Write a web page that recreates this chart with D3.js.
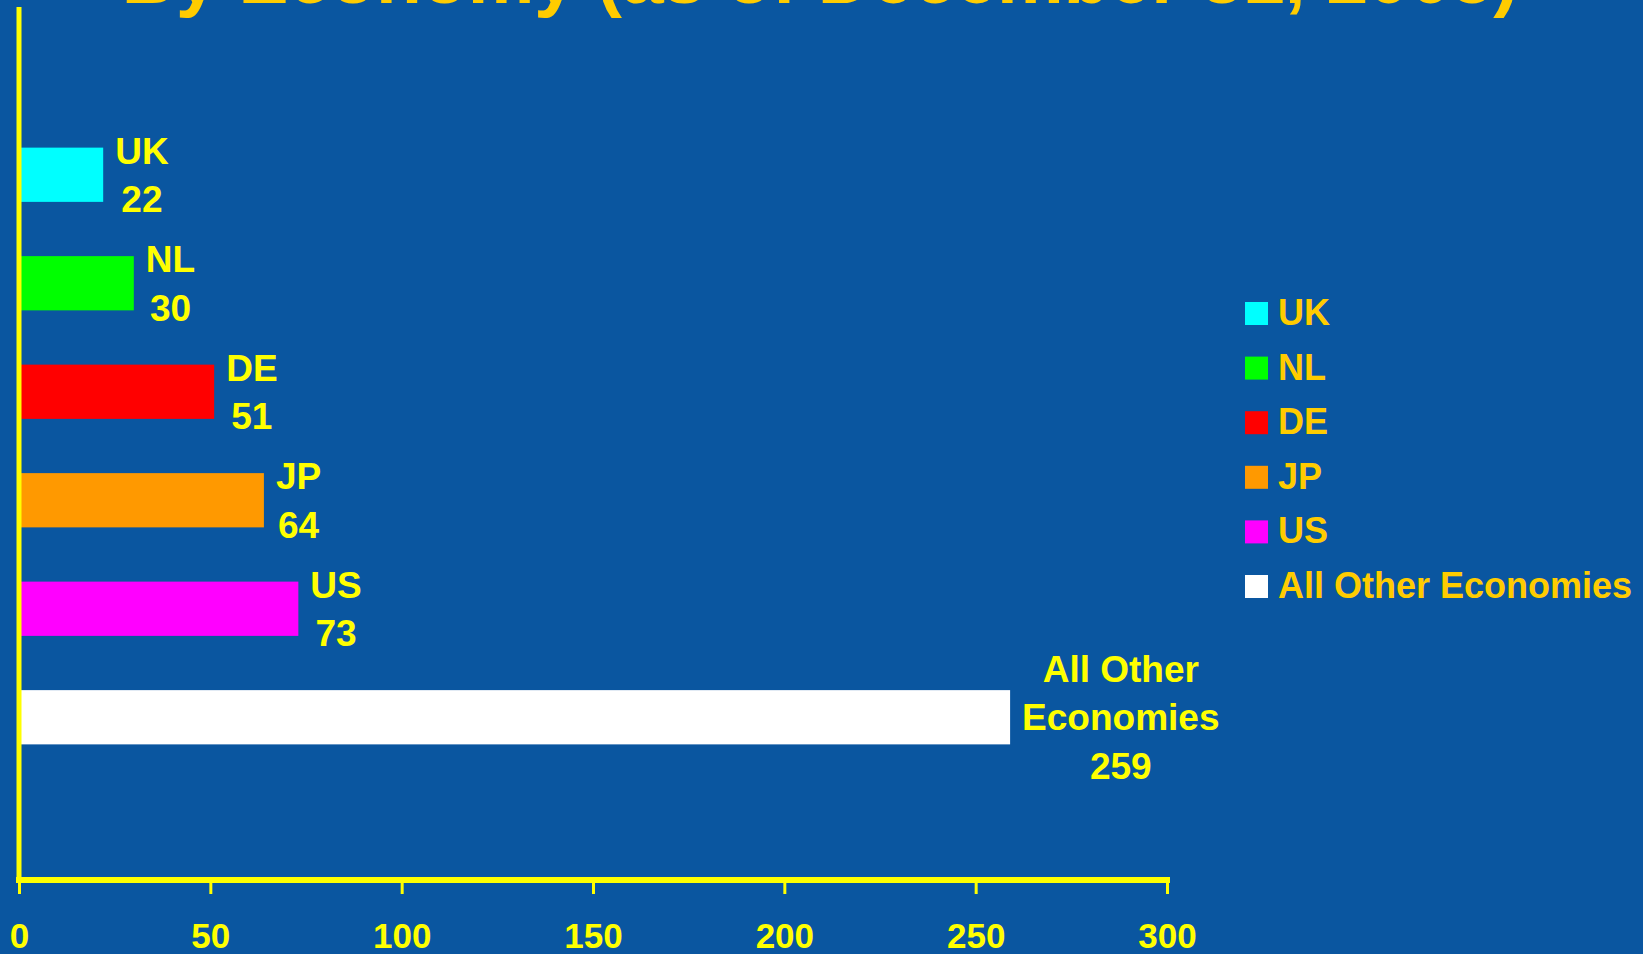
<!DOCTYPE html>
<html>
<head>
<meta charset="utf-8">
<script src="https://cdn.jsdelivr.net/npm/d3@7"></script>
<style>
  html, body { margin: 0; padding: 0; background: #0a56a0; overflow: hidden; }
  svg { display: block; font-family: Arial, "Liberation Sans", sans-serif; font-weight: bold; }
</style>
</head>
<body>
<svg width="1643" height="954"></svg>
<script>
// chart data
const economies = ['UK', 'NL', 'DE', 'JP', 'US', 'All Other Economies'];
const labelLines = [['UK'], ['NL'], ['DE'], ['JP'], ['US'], ['All Other', 'Economies']];
const counts = [22, 30, 51, 64, 73, 259];
const barColors = ['#00ffff', '#00ff00', '#ff0000', '#ff9900', '#ff00ff', '#ffffff'];
const xTicks = [0, 50, 100, 150, 200, 250, 300];
const title = 'By Economy (as of December 31, 2005)';

const svg = d3.select('svg');
const width = +svg.attr('width');
const height = +svg.attr('height');
const margin = {top: 7, right: 476, bottom: 74, left: 19};
const innerWidth = width - margin.left - margin.right;
const innerHeight = height - margin.top - margin.bottom;

const data = economies.map((name, i) => ({
  name: name,
  lines: labelLines[i],
  value: counts[i],
  color: barColors[i]
}));

// title (mostly above the visible area, as in the slide)
svg.append('text')
  .attr('x', 820)
  .attr('y', 3)
  .attr('text-anchor', 'middle')
  .attr('fill', '#ffcc00')
  .style('font-size', '75px')
  .text(title);

const xScale = d3.scaleLinear()
  .domain([0, 300])
  .range([0, 1148]);
const yScale = d3.scaleBand()
  .domain(economies)
  .range([5, innerHeight])
  .paddingInner(0.5)
  .paddingOuter(1.25);

const g = svg.append('g')
  .attr('transform', `translate(${margin.left}, ${margin.top})`);

// bars
g.selectAll('rect.bar').data(data)
  .enter().append('rect')
    .attr('class', 'bar')
    .attr('x', 0)
    .attr('y', d => yScale(d.name))
    .attr('width', d => xScale(d.value))
    .attr('height', yScale.bandwidth())
    .attr('fill', d => d.color);

// y axis line
g.append('line')
  .attr('x1', 0).attr('x2', 0)
  .attr('y1', 0).attr('y2', innerHeight + 3)
  .attr('stroke', '#ffff00')
  .attr('stroke-width', 5);

// x axis
const xAxis = g.append('g')
  .attr('transform', `translate(0, ${innerHeight})`)
  .call(d3.axisBottom(xScale).tickValues(xTicks).tickSize(14).tickPadding(40));
xAxis.select('.domain')
  .attr('d', `M-3,0H${xScale(300) + 3}`)
  .style('stroke', '#ffff00')
  .style('stroke-width', '6px');
xAxis.selectAll('.tick line')
  .attr('y1', 0)
  .style('stroke', '#ffff00')
  .style('stroke-width', '3px');
xAxis.selectAll('.tick text')
  .attr('fill', '#ffff00')
  .attr('dy', null)
  .attr('y', 68)
  .style('font-size', '35px')
  .style('font-family', 'Arial, "Liberation Sans", sans-serif')
  .style('font-weight', 'bold');

// bar labels: name lines + value, centred as a block right of the bar
const lineH = 48.5;
data.forEach(d => {
  const lines = d.lines.concat([String(d.value)]);
  const cy = yScale(d.name) + yScale.bandwidth() / 2;
  const lbl = g.append('text')
    .attr('fill', '#ffff00')
    .attr('text-anchor', 'middle')
    .style('font-size', '37px');
  lines.forEach((t, i) => {
    lbl.append('tspan')
      .attr('y', cy - (lines.length - 1) * lineH / 2 + 13 + i * lineH)
      .text(t);
  });
  let maxW = 0;
  lbl.selectAll('tspan').each(function () {
    maxW = Math.max(maxW, this.getComputedTextLength());
  });
  lbl.selectAll('tspan').attr('x', xScale(d.value) + 12 + maxW / 2);
});

// legend
const legend = svg.append('g')
  .attr('transform', 'translate(1245, 302)');
const item = legend.selectAll('g').data(data)
  .enter().append('g')
    .attr('transform', (d, i) => `translate(0, ${i * 54.6})`);
item.append('rect')
  .attr('width', 23)
  .attr('height', 23)
  .attr('fill', d => d.color);
item.append('text')
  .attr('x', 33)
  .attr('y', 23)
  .attr('fill', '#ffcc00')
  .style('font-size', '36px')
  .text(d => d.name);
</script>
</body>
</html>
